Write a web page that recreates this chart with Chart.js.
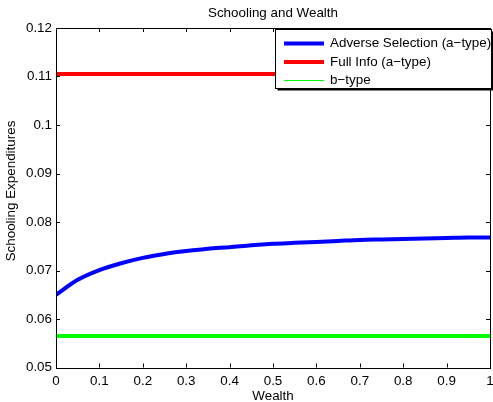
<!DOCTYPE html>
<html>
<head>
<meta charset="utf-8">
<script src="https://cdn.jsdelivr.net/npm/chart.js@4/dist/chart.umd.min.js"></script>
<style>
  html, body { margin: 0; padding: 0; background: #fff; }
  #wrap { width: 493px; height: 402px; }
</style>
</head>
<body>
<div id="wrap"><canvas id="schoolChart" width="493" height="402"></canvas></div>
<script>
// values
const wealth = [0, 0.05, 0.1, 0.15, 0.2, 0.25, 0.3, 0.35, 0.4, 0.45, 0.5,
                0.55, 0.6, 0.65, 0.7, 0.75, 0.8, 0.85, 0.9, 0.95, 1];
const adverseSel = [0.0650, 0.0681, 0.0701, 0.0715, 0.0726, 0.0734, 0.0740, 0.0745, 0.0748, 0.0752, 0.0755,
                    0.0757, 0.0759, 0.0761, 0.0763, 0.0764, 0.0765, 0.0766, 0.0767, 0.0768, 0.0768];
const fullInfoX = [0, 1];
const fullInfo = [0.1105, 0.1105];
const bTypeX = [0, 1];
const bType = [0.0565, 0.0565];
const xTicks = [0, 0.1, 0.2, 0.3, 0.4, 0.5, 0.6, 0.7, 0.8, 0.9, 1];
const yTicks = [0.05, 0.06, 0.07, 0.08, 0.09, 0.1, 0.11, 0.12];
const legendNames = ['Adverse Selection (a\u2212type)', 'Full Info (a\u2212type)', 'b\u2212type'];

const FONT = 'Liberation Sans, Arial, Helvetica, sans-serif';
const FSIZE = 13.4;

const toPts = (xs, ys) => xs.map((x, i) => ({x: x, y: ys[i]}));

// matlab style box, inward ticks, titles and legend
const matlabBox = {
    id: 'matlabBox',
    afterDraw(chart) {
        const ctx = chart.ctx, a = chart.chartArea;
        const xs = chart.scales.x, ys = chart.scales.y;
        ctx.save();
        ctx.strokeStyle = '#000';
        ctx.lineWidth = 1;
        ctx.beginPath();
        xTicks.forEach(t => {
            const px = Math.round(xs.getPixelForValue(t)) + 0.5;
            ctx.moveTo(px, a.bottom); ctx.lineTo(px, a.bottom - 4);
            ctx.moveTo(px, a.top); ctx.lineTo(px, a.top + 4);
        });
        yTicks.forEach(t => {
            const py = Math.round(ys.getPixelForValue(t)) + 0.5;
            ctx.moveTo(a.left, py); ctx.lineTo(a.left + 4, py);
            ctx.moveTo(a.right, py); ctx.lineTo(a.right - 4, py);
        });
        ctx.stroke();
        ctx.strokeRect(Math.round(a.left) + 0.5, Math.round(a.top) + 0.5,
                       Math.round(a.right - a.left), Math.round(a.bottom - a.top));

        ctx.fillStyle = '#000';
        ctx.font = FSIZE + 'px ' + FONT;
        ctx.textAlign = 'center';
        ctx.textBaseline = 'middle';
        ctx.fillText('Schooling and Wealth', (a.left + a.right) / 2, 13);
        ctx.fillText('Wealth', (a.left + a.right) / 2, 396.5);
        ctx.save();
        ctx.translate(11, 191);
        ctx.rotate(-Math.PI / 2);
        ctx.fillText('Schooling Expenditures', 0, 0);
        ctx.restore();

        // legend
        const lx = 275.5, ly = 29.5, lw = 216, lh = 59;
        ctx.fillStyle = '#fff';
        ctx.fillRect(lx, ly, lw, lh);
        ctx.strokeRect(lx, ly, lw, lh);
        ctx.lineWidth = 2;
        ctx.beginPath();
        ctx.moveTo(lx + 2, ly + lh + 1); ctx.lineTo(lx + lw + 1, ly + lh + 1);
        ctx.lineTo(lx + lw + 1, ly + 2);
        ctx.stroke();
        const rows = [43.5, 62, 80.5];
        chart.data.datasets.forEach((ds, i) => {
            ctx.strokeStyle = ds.borderColor;
            ctx.lineWidth = i === 2 ? 1 : 4;
            ctx.beginPath();
            ctx.moveTo(284, rows[i]); ctx.lineTo(324, rows[i]);
            ctx.stroke();
            ctx.fillStyle = '#000';
            ctx.textAlign = 'left';
            ctx.fillText(legendNames[i], 330, rows[i]);
        });
        ctx.restore();
    }
};

new Chart('schoolChart', {
    type: 'line',
    data: {
        datasets: [
            {label: legendNames[0], data: toPts(wealth, adverseSel), borderColor: '#0000ff', borderWidth: 4,
             pointRadius: 0, cubicInterpolationMode: 'monotone'},
            {label: legendNames[1], data: toPts(fullInfoX, fullInfo), borderColor: '#ff0000', borderWidth: 4, pointRadius: 0},
            {label: legendNames[2], data: toPts(bTypeX, bType), borderColor: '#00ff00', borderWidth: 4, pointRadius: 0}
        ]
    },
    options: {
        responsive: false,
        animation: false,
        layout: {padding: {top: 28, right: 3, left: 0, bottom: 0}},
        plugins: {legend: {display: false}, title: {display: false}, tooltip: {enabled: false}},
        scales: {
            x: {
                type: 'linear', min: 0, max: 1,
                afterBuildTicks: s => { s.ticks = xTicks.map(v => ({value: v})); },
                afterFit: s => { s.height = 34.5; s.paddingLeft = 0; s.paddingRight = 0; },
                grid: {display: false, drawTicks: false},
                border: {display: false},
                ticks: {color: '#000', padding: 6, font: {family: FONT, size: FSIZE}, maxRotation: 0,
                        callback: v => String(v)}
            },
            y: {
                min: 0.05, max: 0.12,
                afterBuildTicks: s => { s.ticks = yTicks.map(v => ({value: v})); },
                afterFit: s => { s.width = 56; s.paddingTop = 0; s.paddingBottom = 0; },
                grid: {display: false, drawTicks: false},
                border: {display: false},
                ticks: {color: '#000', padding: 4, font: {family: FONT, size: FSIZE},
                        callback: v => String(Math.round(v * 100) / 100)}
            }
        }
    },
    plugins: [matlabBox]
});
</script>
</body>
</html>
